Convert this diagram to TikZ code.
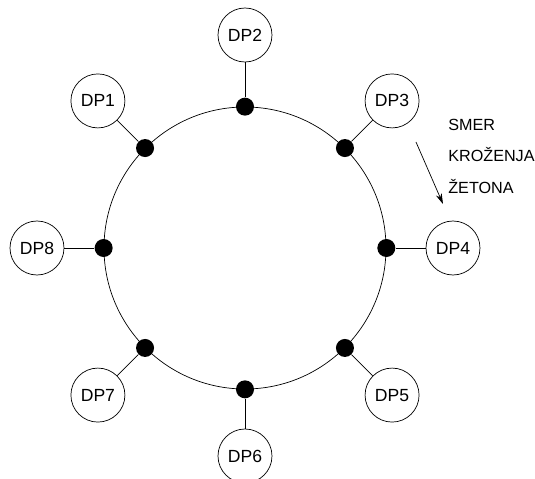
\documentclass[tikz,border=0pt]{standalone}
\usepackage{fontspec}
\setmainfont{Liberation Sans}
\usepackage{tikz}
\usetikzlibrary{shapes,arrows}
\usetikzlibrary{positioning}
\usetikzlibrary{arrows.meta}
\tikzset{>=stealth}
\tikzstyle{line} = [draw, thin]

\begin{document}
\begin{tikzpicture}[auto,
station/.style={draw, circle, thin, minimum size=1.08cm, inner sep=0pt,
font=\fontsize{10}{12}\selectfont},
tap/.style={circle, fill=black, minimum size=0.36cm, inner sep=0pt},
note/.style={anchor=base west, inner sep=0pt, font=\fontsize{9.2}{11}\selectfont}]
\useasboundingbox (-4.9,-4.62) rectangle (5.8,4.96);
%% Ring
\node [draw, circle, thin, minimum size=5.64cm, inner sep=0pt] (ring) at (0,0) {};
%% Taps on the ring
\node [tap] (T1) at (ring.135) {};
\node [tap] (T2) at (ring.90) {};
\node [tap] (T3) at (ring.45) {};
\node [tap] (T4) at (ring.0) {};
\node [tap] (T5) at (ring.-45) {};
\node [tap] (T6) at (ring.-90) {};
\node [tap] (T7) at (ring.-135) {};
\node [tap] (T8) at (ring.180) {};
%% Stations
\node [station] (DP1) at (135:4.16) {DP1};
\node [station] (DP2) at (90:4.26) {DP2};
\node [station] (DP3) at (45:4.16) {DP3};
\node [station] (DP4) at (0:4.16) {DP4};
\node [station] (DP5) at (-45:4.16) {DP5};
\node [station] (DP6) at (-90:4.16) {DP6};
\node [station] (DP7) at (-135:4.16) {DP7};
\node [station] (DP8) at (180:4.16) {DP8};
%% Drop lines
\path [line] (DP1) -- (T1);
\path [line] (DP2) -- (T2);
\path [line] (DP3) -- (T3);
\path [line] (DP4) -- (T4);
\path [line] (DP5) -- (T5);
\path [line] (DP6) -- (T6);
\path [line] (DP7) -- (T7);
\path [line] (DP8) -- (T8);
%% Direction of the token
\node [note] (smer) at (4.06,2.36) {SMER};
\node [note] (krozenja) at (4.06,1.72) {KROŽENJA};
\node [note] (zetona) at (4.06,1.08) {ŽETONA};
\coordinate (from) at (3.42,2.12);
\coordinate (to) at (3.96,0.88);
\path [line, -{Stealth[length=6pt, width=3.5pt]}] (from) -- (to);
\end{tikzpicture}
\end{document}
